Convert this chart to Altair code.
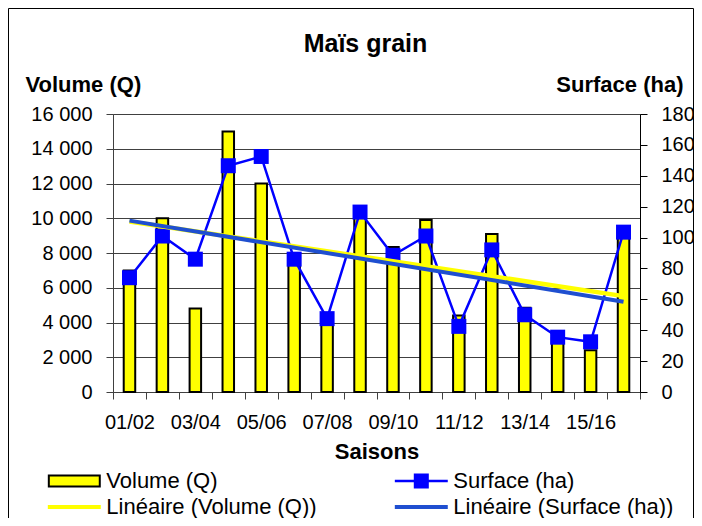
import json
import altair as alt
import pandas as pd

# ---------------- data ----------------
SEASONS = ["01/02", "02/03", "03/04", "04/05", "05/06", "06/07", "07/08", "08/09",
           "09/10", "10/11", "11/12", "12/13", "13/14", "14/15", "15/16", "16/17"]
SHOWN_LABELS = ["01/02", "03/04", "05/06", "07/08", "09/10", "11/12", "13/14", "15/16"]
VOLUME_Q = [7000, 10000, 4800, 15000, 12000, 7800, 4100, 10500,
            8350, 9900, 4400, 9100, 4850, 3100, 2400, 9400]
SURFACE_HA = [74, 101, 86, 146.5, 152.5, 86, 47.5, 116.5,
              88.5, 101, 42.5, 92, 50, 35.5, 32.5, 103.5]
VOLUME_TICKS = [0, 2000, 4000, 6000, 8000, 10000, 12000, 14000, 16000]
SURFACE_TICKS = [0, 20, 40, 60, 80, 100, 120, 140, 160, 180]
LEGEND_NAMES = ["Volume (Q)", "Surface (ha)", "Linéaire (Volume (Q))", "Linéaire (Surface (ha))"]

# ---------------- styles ----------------
FONT = "Liberation Sans"
YELLOW = "#ffff00"
BLUE = "#0000ff"
TREND_BLUE = "#1f4fd0"
LEGEND_FILLS = [YELLOW, BLUE, YELLOW, TREND_BLUE]
LEGEND_STROKES = ["#000000", BLUE, YELLOW, TREND_BLUE]
LEGEND_SHAPES = [
    "M-3.64,-0.8H3.64V0.8H-3.64Z",
    "M-3.64,-0.04H3.64V0.04H-3.64Z M-0.93,-0.93H0.93V0.93H-0.93Z",
    "M-3.64,-0.14H3.64V0.14H-3.64Z",
    "M-3.64,-0.14H3.64V0.14H-3.64Z",
]

df = pd.DataFrame({
    "Saison": SEASONS,
    "idx": list(range(len(SEASONS))),
    "Volume": VOLUME_Q,
    "Surface": SURFACE_HA,
})

x_scale = alt.Scale(domain=SEASONS, paddingInner=0, paddingOuter=0)
label_expr = "indexof(" + json.dumps(SHOWN_LABELS) + ", datum.label) >= 0 ? datum.label : ''"
x_axis = alt.Axis(
    title="Saisons", titleFont=FONT, titleFontSize=22, titleFontWeight="bold",
    titleColor="black", titleBaseline="alphabetic", titleY=66,
    labelAngle=0, labelFont=FONT, labelFontSize=20, labelColor="black",
    labelPadding=13, labelExpr=label_expr, labelOverlap=False,
    tickBand="extent", tickSize=7, tickColor="#404040", domainColor="#404040",
    grid=False,
)
X = alt.X("Saison:N", scale=x_scale, axis=x_axis, sort=SEASONS)

vol_scale = alt.Scale(domain=[0, 16000], nice=False, zero=True)
surf_scale = alt.Scale(domain=[0, 180], nice=False, zero=True)

vol_axis = alt.Axis(
    orient="left", values=VOLUME_TICKS, title="Volume (Q)",
    titleAngle=0, titleAlign="left", titleBaseline="alphabetic",
    titleX=-88, titleY=-22.6, titleFont=FONT, titleFontSize=22,
    titleFontWeight="bold", titleColor="black",
    labelFont=FONT, labelFontSize=20, labelColor="black", labelPadding=14,
    labelExpr="replace(format(datum.value, ','), ',', ' ')",
    tickSize=7, tickColor="#404040", domainColor="#404040",
    grid=True, gridColor="#404040", gridWidth=1,
)
surf_axis = alt.Axis(
    orient="right", values=SURFACE_TICKS, title="Surface (ha)",
    titleAngle=0, titleAlign="right", titleBaseline="alphabetic",
    titleX=43, titleY=-22.6, titleFont=FONT, titleFontSize=22,
    titleFontWeight="bold", titleColor="black",
    labelFont=FONT, labelFontSize=20, labelColor="black", labelPadding=14,
    tickSize=7, tickColor="#000000", domainColor="#000000", grid=False,
)

base = alt.Chart(df)

frame = alt.Chart(alt.Data(values=[{}])).mark_rect(
    filled=False, stroke="#000000", strokeWidth=1
).encode(
    x=alt.value(-104.5), x2=alt.value(580.5),
    y=alt.value(-105.5), y2=alt.value(460),
)

bars = base.mark_bar(size=11.5, fill=YELLOW, stroke="#000000", strokeWidth=2).encode(
    x=X, y=alt.Y("Volume:Q", scale=vol_scale, axis=vol_axis)
)

surf_line = base.mark_line(color=BLUE, strokeWidth=2.5).encode(
    x=X, y=alt.Y("Surface:Q", scale=surf_scale, axis=surf_axis)
)

surf_pts = base.mark_point(shape="square", filled=True, size=225, color=BLUE, opacity=1).encode(
    x=X, y=alt.Y("Surface:Q", scale=surf_scale, axis=None)
)

season_expr = json.dumps(SEASONS) + "[round(datum.idx)]"

trend_vol = base.transform_regression("idx", "Volume").transform_calculate(
    Saison=season_expr
).mark_line(color=YELLOW, strokeWidth=4.5).encode(
    x=X, y=alt.Y("Volume:Q", scale=vol_scale, axis=None)
)

trend_surf = base.transform_regression("idx", "Surface").transform_calculate(
    Saison=season_expr
).mark_line(color=TREND_BLUE, strokeWidth=4).encode(
    x=X, y=alt.Y("Surface:Q", scale=surf_scale, axis=None)
)

leg_spec = alt.Legend(
    title=None, orient="none", legendX=-49.7, legendY=356,
    direction="horizontal", columns=2, columnPadding=74, rowPadding=4,
    symbolSize=196, symbolStrokeWidth=2, symbolOpacity=1,
    labelFont=FONT, labelFontSize=22, labelColor="black",
    labelOffset=21, labelLimit=400, padding=0,
)

legend_df = pd.DataFrame({"Serie": LEGEND_NAMES})
legend_layer = alt.Chart(legend_df).mark_point(filled=True, opacity=0).encode(
    fill=alt.Fill("Serie:N", scale=alt.Scale(domain=LEGEND_NAMES, range=LEGEND_FILLS),
                  legend=leg_spec, sort=LEGEND_NAMES),
    stroke=alt.Stroke("Serie:N", scale=alt.Scale(domain=LEGEND_NAMES, range=LEGEND_STROKES),
                      legend=leg_spec, sort=LEGEND_NAMES),
    shape=alt.Shape("Serie:N", scale=alt.Scale(domain=LEGEND_NAMES, range=LEGEND_SHAPES),
                    legend=leg_spec, sort=LEGEND_NAMES),
)

chart = alt.layer(
    frame, bars, surf_line, surf_pts, trend_vol, trend_surf, legend_layer
).resolve_scale(
    y="independent"
).properties(
    width=527, height=278,
    autosize=alt.AutoSizeParams(type="none"),
    padding={"left": 105, "top": 106, "right": 54, "bottom": 126},
    title=alt.TitleParams(
        "Maïs grain", font=FONT, fontSize=25, fontWeight="bold", color="black",
        anchor="middle", frame="group", baseline="alphabetic", dx=-11, offset=-69,
    ),
).configure(
    background="white",
).configure_view(
    fill="#f2f2f2", stroke="#808080", strokeWidth=1,
)

chart.save("out.html", embed_options={"renderer": "svg", "actions": False})
